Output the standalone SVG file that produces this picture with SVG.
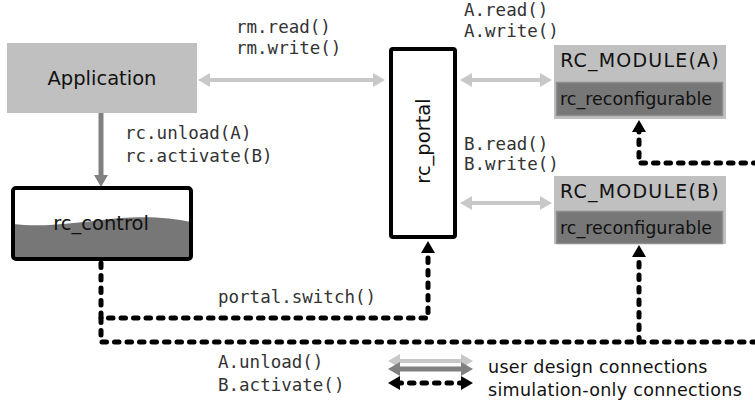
<svg xmlns="http://www.w3.org/2000/svg" width="755" height="408" viewBox="0 0 755 408">
<defs>
<style>
.lbl{font-family:"DejaVu Sans",Verdana,sans-serif;fill:#111}
.mono{font-family:"DejaVu Sans Mono","Liberation Mono",monospace;font-size:17.5px;fill:#333}
.light{stroke:#c8c8c8;stroke-width:4;fill:none;marker-start:url(#mLight);marker-end:url(#mLight)}
.dark{stroke:#808080;stroke-width:5;fill:none}
.sim{stroke:#000;stroke-width:5;fill:none;stroke-linecap:round;stroke-linejoin:round;stroke-dasharray:4.5 8}
.simarrow{marker-end:url(#mSim)}
.mod{font-size:19px;letter-spacing:1.2px}
.leg{font-size:17.5px;letter-spacing:0.3px}
</style>
<marker id="mLight" markerUnits="userSpaceOnUse" viewBox="0 0 12 14" refX="4" refY="7" markerWidth="12" markerHeight="14" orient="auto-start-reverse"><path d="M0,0 L12,7 L0,14 Z" fill="#c8c8c8"/></marker>
<marker id="mDark" markerUnits="userSpaceOnUse" viewBox="0 0 12 14" refX="2" refY="7" markerWidth="12" markerHeight="14" orient="auto-start-reverse"><path d="M0,0 L12,7 L0,14 Z" fill="#808080"/></marker>
<marker id="mSim" markerUnits="userSpaceOnUse" viewBox="0 0 12 14" refX="3" refY="7" markerWidth="12" markerHeight="14" orient="auto-start-reverse"><path d="M0,0 L12,7 L0,14 Z" fill="#000"/></marker>
</defs>
<rect width="755" height="408" fill="#fff"/>

<g id="connectors">
  <line class="light" x1="206" y1="80" x2="377" y2="80"/>
  <line class="light" x1="468" y1="80" x2="544" y2="80"/>
  <line class="light" x1="468" y1="203" x2="544" y2="203"/>
  <line class="dark" x1="101" y1="113" x2="101" y2="177" marker-end="url(#mDark)"/>
  <path class="sim simarrow" d="M101,263 V318 H428 V250"/>
  <path class="sim" d="M101,318 V342 H758"/>
  <path class="sim simarrow" d="M639,342 V254"/>
  <path class="sim simarrow" d="M758,163 H639 V129"/>
</g>

<g id="labels">
  <text class="mono" x="236" y="33">rm.read()</text>
  <text class="mono" x="236" y="54">rm.write()</text>
  <text class="mono" x="464" y="16">A.read()</text>
  <text class="mono" x="464" y="37">A.write()</text>
  <text class="mono" x="464" y="150">B.read()</text>
  <text class="mono" x="464" y="170">B.write()</text>
  <text class="mono" x="125" y="139">rc.unload(A)</text>
  <text class="mono" x="125" y="162">rc.activate(B)</text>
  <text class="mono" x="218" y="303">portal.switch()</text>
  <text class="mono" x="218" y="368">A.unload()</text>
  <text class="mono" x="218" y="391">B.activate()</text>
</g>

<g id="application">
  <rect x="7" y="43" width="190" height="70" fill="#c0c0c0"/>
  <text class="lbl" x="102" y="85" font-size="19.5" text-anchor="middle">Application</text>
</g>

<g id="rc_control">
  <rect x="13" y="188" width="178" height="71" fill="#fff"/>
  <path d="M13,224 C45,228 80,222 120,218 C150,216 172,218 191,222 V259 H13 Z" fill="#777"/>
  <rect x="13" y="188" width="178" height="71" rx="3" fill="none" stroke="#000" stroke-width="4"/>
  <text class="lbl" x="101" y="230" font-size="19.5" text-anchor="middle" fill="#000">rc_control</text>
</g>

<g id="rc_portal">
  <rect x="391" y="49" width="64" height="188" rx="2" fill="#fff" stroke="#000" stroke-width="4"/>
  <text class="lbl" transform="translate(430,141) rotate(-90)" font-size="19.5" text-anchor="middle" fill="#000">rc_portal</text>
</g>

<g id="rc_module_a">
  <rect x="554" y="45" width="172" height="74" fill="#c0c0c0"/>
  <rect x="556.5" y="82.5" width="166" height="33" fill="#777" stroke="#8e8e8e" stroke-width="1.5"/>
  <text class="lbl mod" x="640" y="67" text-anchor="middle">RC_MODULE(A)</text>
  <text class="lbl" x="560" y="105" font-size="17.5">rc_reconfigurable</text>
</g>

<g id="rc_module_b">
  <rect x="554" y="176" width="172" height="68" fill="#c0c0c0"/>
  <rect x="556.5" y="211.5" width="166" height="32" fill="#777" stroke="#8e8e8e" stroke-width="1.5"/>
  <text class="lbl mod" x="640" y="198" text-anchor="middle">RC_MODULE(B)</text>
  <text class="lbl" x="560" y="234" font-size="17.5">rc_reconfigurable</text>
</g>

<g id="legend">
  <line class="light" x1="396" y1="361" x2="465" y2="361"/>
  <line class="dark" x1="398" y1="369" x2="463" y2="369" marker-start="url(#mDark)" marker-end="url(#mDark)"/>
  <line class="sim" x1="397" y1="383" x2="464" y2="383" marker-start="url(#mSim)" marker-end="url(#mSim)"/>
  <text class="lbl leg" x="488" y="373">user design connections</text>
  <text class="lbl leg" x="488" y="396">simulation-only connections</text>
</g>
</svg>
